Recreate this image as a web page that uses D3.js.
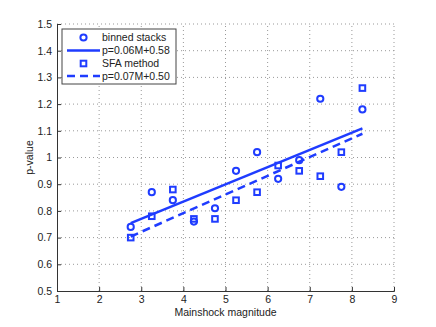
<!DOCTYPE html>
<html>
<head>
<meta charset="utf-8">
<script src="https://cdn.jsdelivr.net/npm/d3@7"></script>
<style>
	body { margin:0; background:#fff; }
	svg text { font-family:"Liberation Sans", Arial, sans-serif; fill:#222; }
</style>
</head>
<body>
<div id="chart"></div>
<script>
// magnitude bins
var magnitudes = [2.75, 3.25, 3.75, 4.25, 4.75, 5.25, 5.75, 6.25, 6.75, 7.25, 7.75, 8.25];
// binned stacks p-values
var binnedValues = [0.74, 0.87, 0.84, 0.76, 0.81, 0.95, 1.02, 0.92, 0.99, 1.22, 0.89, 1.18];
// SFA method p-values
var sfaValues = [0.70, 0.78, 0.88, 0.77, 0.77, 0.84, 0.87, 0.97, 0.95, 0.93, 1.02, 1.26];
// fit lines (end points)
var fitX = [2.75, 8.25];
var binnedFit = [0.754, 1.109];
var sfaFit = [0.704, 1.089];
// ticks
var xTicks = [1, 2, 3, 4, 5, 6, 7, 8, 9];
var yTicks = [0.5, 0.6, 0.7, 0.8, 0.9, 1, 1.1, 1.2, 1.3, 1.4, 1.5];
// legend labels
var legendLabels = ["binned stacks", "p=0.06M+0.58", "SFA method", "p=0.07M+0.50"];

;(function(d3){
	var W = 436, H = 327;
	var m = {left:57, right:42, top:24, bottom:36};
	var blue = "#1f3cff";
	var fs = 10.5;

	var svg = d3.select("#chart").append("svg")
		.attr("width", W).attr("height", H);

	var x = d3.scaleLinear().domain([1, 9]).range([m.left, W - m.right]);
	var y = d3.scaleLinear().domain([0.5, 1.5]).range([H - m.bottom, m.top]);

	// grid (dotted)
	var grid = svg.append("g");
	grid.selectAll("line.gx").data(xTicks.slice(1)).enter().append("line")
		.attr("x1", function(d){ return x(d); }).attr("x2", function(d){ return x(d); })
		.attr("y1", y(0.5)).attr("y2", y(1.5))
		.attr("stroke", "#999").attr("stroke-width", 1).attr("stroke-dasharray", "1,3");
	grid.selectAll("line.gy").data(yTicks.slice(1)).enter().append("line")
		.attr("y1", function(d){ return y(d); }).attr("y2", function(d){ return y(d); })
		.attr("x1", x(1)).attr("x2", x(9))
		.attr("stroke", "#999").attr("stroke-width", 1).attr("stroke-dasharray", "1,3");

	// axes
	var xAxis = d3.axisBottom(x).tickValues(xTicks).tickSize(-4).tickPadding(5).tickFormat(d3.format("d"));
	var yAxis = d3.axisLeft(y).tickValues(yTicks).tickSize(-4).tickPadding(5).tickFormat(function(d){ return d === 1 ? "1" : d3.format(".1f")(d); });
	var gx = svg.append("g").attr("transform", "translate(0," + y(0.5) + ")").call(xAxis);
	var gy = svg.append("g").attr("transform", "translate(" + x(1) + ",0)").call(yAxis);
	[gx, gy].forEach(function(g){
		g.select(".domain").attr("stroke", "#333");
		g.selectAll(".tick line").attr("stroke", "#333");
		g.selectAll("text").attr("font-size", fs).attr("fill", "#222")
			.attr("font-family", "Liberation Sans, Arial, sans-serif");
	});

	// axis labels
	svg.append("text").attr("x", x(5)).attr("y", 316)
		.attr("text-anchor", "middle").attr("font-size", fs).text("Mainshock magnitude");
	svg.append("text").attr("transform", "translate(33," + y(1) + ") rotate(-90)")
		.attr("text-anchor", "middle").attr("font-size", fs).text("p-value");

	// fit lines
	var line = d3.line().x(function(d){ return x(d[0]); }).y(function(d){ return y(d[1]); });
	svg.append("path").datum(d3.zip(fitX, binnedFit)).attr("d", line)
		.attr("fill", "none").attr("stroke", blue).attr("stroke-width", 2.5);
	svg.append("path").datum(d3.zip(fitX, sfaFit)).attr("d", line)
		.attr("fill", "none").attr("stroke", blue).attr("stroke-width", 2.5)
		.attr("stroke-dasharray", "8,5");

	// markers
	svg.append("g").selectAll("circle").data(d3.zip(magnitudes, binnedValues)).enter()
		.append("circle")
		.attr("cx", function(d){ return x(d[0]); }).attr("cy", function(d){ return y(d[1]); })
		.attr("r", 3.1).attr("fill", "none").attr("stroke", blue).attr("stroke-width", 2);
	svg.append("g").selectAll("rect").data(d3.zip(magnitudes, sfaValues)).enter()
		.append("rect")
		.attr("x", function(d){ return x(d[0]) - 2.8; }).attr("y", function(d){ return y(d[1]) - 2.8; })
		.attr("width", 5.6).attr("height", 5.6)
		.attr("fill", "none").attr("stroke", blue).attr("stroke-width", 2);

	// legend
	var lg = svg.append("g").attr("transform", "translate(62,29)");
	lg.append("rect").attr("width", 114).attr("height", 55)
		.attr("fill", "#fff").attr("stroke", "#444").attr("stroke-width", 1);
	var rows = [8.5, 21.5, 34.5, 47];
	legendLabels.forEach(function(t, i){
		var ry = rows[i];
		if (i === 0) {
			lg.append("circle").attr("cx", 21.5).attr("cy", ry).attr("r", 3.1)
				.attr("fill", "none").attr("stroke", blue).attr("stroke-width", 2);
		} else if (i === 2) {
			lg.append("rect").attr("x", 18.7).attr("y", ry - 2.8).attr("width", 5.6).attr("height", 5.6)
				.attr("fill", "none").attr("stroke", blue).attr("stroke-width", 2);
		} else {
			lg.append("line").attr("x1", 5).attr("x2", 38).attr("y1", ry).attr("y2", ry)
				.attr("stroke", blue).attr("stroke-width", 2.5)
				.attr("stroke-dasharray", i === 3 ? "8,5" : null);
		}
		lg.append("text").attr("x", 40).attr("y", ry + 3.7).attr("font-size", fs).text(t);
	});
})(d3);
</script>
</body>
</html>
